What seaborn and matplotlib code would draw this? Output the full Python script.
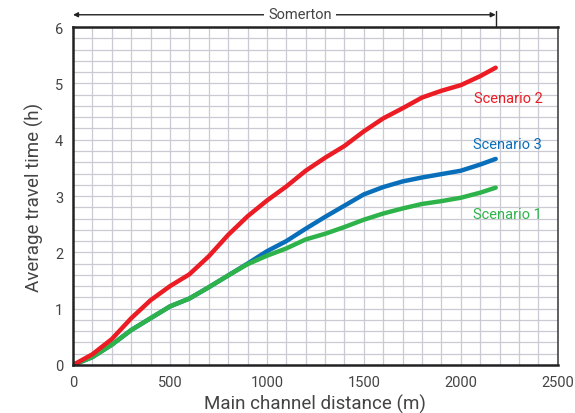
import numpy as np
import pandas as pd
import matplotlib
matplotlib.use('Agg')
import matplotlib.pyplot as plt
import seaborn as sns

# ---- data ----
DISTANCE = [0, 100, 200, 300, 400, 500, 600, 700, 800, 900, 1000, 1100,
            1200, 1300, 1400, 1500, 1600, 1700, 1800, 1900, 2000, 2100, 2180]
SCENARIO_1 = [0, 0.14, 0.36, 0.62, 0.83, 1.04, 1.18, 1.38, 1.59, 1.79, 1.94, 2.07,
              2.23, 2.33, 2.45, 2.58, 2.69, 2.78, 2.86, 2.91, 2.97, 3.06, 3.15]
SCENARIO_2 = [0, 0.19, 0.46, 0.83, 1.15, 1.40, 1.61, 1.93, 2.31, 2.64, 2.92, 3.17,
              3.45, 3.68, 3.89, 4.15, 4.38, 4.56, 4.75, 4.87, 4.97, 5.13, 5.28]
SCENARIO_3 = [0, 0.14, 0.36, 0.62, 0.83, 1.04, 1.18, 1.38, 1.59, 1.80, 2.02, 2.20,
              2.42, 2.63, 2.83, 3.03, 3.16, 3.26, 3.33, 3.39, 3.45, 3.56, 3.66]

SERIES = ['Scenario 3', 'Scenario 1', 'Scenario 2']   # draw order (red on top)
COLORS = {'Scenario 1': '#2eb34b', 'Scenario 2': '#ec1c24', 'Scenario 3': '#0a6fba'}
LABEL_Y = {'Scenario 1': 2.68, 'Scenario 2': 4.75, 'Scenario 3': 3.92}

REACH_END = 2180
REACH_NAME = 'Somerton'

df = pd.concat([
    pd.DataFrame({'distance': DISTANCE, 'time': SCENARIO_1, 'scenario': 'Scenario 1'}),
    pd.DataFrame({'distance': DISTANCE, 'time': SCENARIO_2, 'scenario': 'Scenario 2'}),
    pd.DataFrame({'distance': DISTANCE, 'time': SCENARIO_3, 'scenario': 'Scenario 3'}),
])

sns.set_style('white')
plt.rcParams['font.family'] = ['Roboto', 'Liberation Sans', 'DejaVu Sans']
TEXT = '#444444'

fig = plt.figure(figsize=(5.75, 4.14), dpi=100)
ax = fig.add_axes([0.127, 0.116, 0.843, 0.816])

for name in SERIES:
    sns.lineplot(data=df[df['scenario'] == name], x='distance', y='time',
                 color=COLORS[name], linewidth=3.2, ax=ax, legend=False,
                 solid_capstyle='round', solid_joinstyle='round')
    ax.text(2243, LABEL_Y[name], name, color=COLORS[name], fontsize=10.5,
            ha='center', va='center')

ax.set_xlim(0, 2500)
ax.set_ylim(0, 6)
ax.set_xticks(np.arange(0, 2501, 500))
ax.set_yticks(np.arange(0, 7, 1))
ax.set_xticks(np.arange(0, 2501, 100), minor=True)
ax.set_yticks(np.arange(0, 6.01, 0.2), minor=True)
ax.grid(True, which='both', color='#c9cad3', linewidth=0.9)
ax.set_axisbelow(True)

for side in ['left', 'bottom', 'top']:
    ax.spines[side].set_linewidth(1.8)
    ax.spines[side].set_color('#222222')
ax.spines['right'].set_linewidth(1.2)
ax.spines['right'].set_color('#444444')

ax.tick_params(which='major', direction='out', length=4, width=1.2,
               color='#222222', labelcolor=TEXT, labelsize=10.5, pad=3)
ax.tick_params(which='minor', length=0)
ax.tick_params(axis='x', top=False)

ax.set_xlabel('Main channel distance (m)', fontsize=13.5, color=TEXT, labelpad=4)
ax.set_ylabel('Average travel time (h)', fontsize=13.5, color=TEXT, labelpad=8)

# reach annotation above the plot
ax.annotate('', xy=(0, 6.22), xytext=(REACH_END, 6.22),
            arrowprops=dict(arrowstyle='<|-|>', color='#222222', lw=1.0,
                            mutation_scale=7, shrinkA=0, shrinkB=0),
            annotation_clip=False)
ax.plot([REACH_END, REACH_END], [6.0, 6.28], color='#222222', lw=1.0, clip_on=False)
ax.text(1170, 6.24, REACH_NAME, fontsize=10.5, color=TEXT, ha='center', va='center',
        bbox=dict(facecolor='white', edgecolor='none', pad=3))

fig.savefig('out.png', dpi=100)
